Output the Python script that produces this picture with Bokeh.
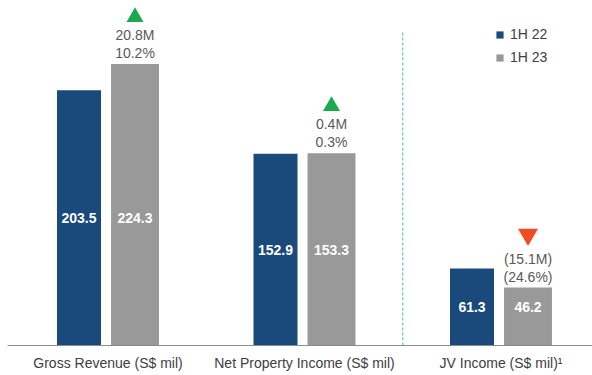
from bokeh.plotting import figure
from bokeh.models import ColumnDataSource, Range1d, FixedTicker, Legend, LegendItem
from bokeh.transform import dodge
from bokeh.core.properties import value
from bokeh.embed import file_html
from bokeh.resources import INLINE

# ---- data ----
categories = ["Gross Revenue (S$ mil)", "Net Property Income (S$ mil)", "JV Income (S$ mil)\u00b9"]
h1_22 = [203.5, 152.9, 61.3]
h1_23 = [224.3, 153.3, 46.2]
change_abs = ["20.8M", "0.4M", "(15.1M)"]
change_pct = ["10.2%", "0.3%", "(24.6%)"]
direction = ["up", "up", "down"]
series_names = ["1H 22", "1H 23"]

BLUE = "#1a4a7b"
GREY = "#999999"
GREEN = "#1ba84f"
RED = "#f04b23"
FONT = "Liberation Sans"

x = list(range(len(categories)))
Y_END = 275.0
FRAME_H = 345
def px(n):
    return n * Y_END / FRAME_H

src = ColumnDataSource(dict(
    x=x,
    a=h1_22,
    b=h1_23,
    a_lbl=[f"{v:.1f}" for v in h1_22],
    b_lbl=[f"{v:.1f}" for v in h1_23],
    mid=[v / 2 for v in h1_22],
    abs_=change_abs,
    pct=change_pct,
))

p = figure(width=592, height=375, output_backend="svg", toolbar_location=None,
           x_range=Range1d(-0.5115, 2.4656), y_range=Range1d(0, Y_END),
           min_border_left=7, min_border_right=0, min_border_top=0, min_border_bottom=30)
p.outline_line_color = None
p.grid.visible = False
p.yaxis.visible = False
p.background_fill_color = "white"

ax = p.xaxis[0]
ax.ticker = FixedTicker(ticks=x)
ax.major_label_overrides = {i: c for i, c in zip(x, categories)}
ax.major_tick_line_color = None
ax.minor_tick_line_color = None
ax.major_tick_out = 0
ax.major_label_standoff = 9
ax.axis_line_color = "#8c8c8c"
ax.major_label_text_font = FONT
ax.major_label_text_font_size = "14px"
ax.major_label_text_color = "#404040"

r1 = p.vbar(x=dodge("x", -0.1476, range=p.x_range), top="a", width=0.224, source=src,
            fill_color=BLUE, line_color=None)
r2 = p.vbar(x=dodge("x", 0.1374, range=p.x_range), top="b", width=0.244, source=src,
            fill_color=GREY, line_color=None)

# in-bar labels
for off, col in [(-0.1476, "a_lbl"), (0.1374, "b_lbl")]:
    p.text(x=dodge("x", off, range=p.x_range), y="mid", text=col, source=src,
           text_font=value(FONT), text_font_size="14px", text_font_style="bold",
           text_color="white", text_align="center", text_baseline="middle")

# change annotations
p.text(x=dodge("x", 0.1374, range=p.x_range), y="b", text="pct", source=src, y_offset=-11,
       text_font=value(FONT), text_font_size="14px", text_color="#595959",
       text_align="center", text_baseline="middle")
p.text(x=dodge("x", 0.1374, range=p.x_range), y="b", text="abs_", source=src, y_offset=-29,
       text_font=value(FONT), text_font_size="14px", text_color="#595959",
       text_align="center", text_baseline="middle")

up_x = [i + 0.1374 for i, d in zip(x, direction) if d == "up"]
up_y = [v + px(47) for v, d in zip(h1_23, direction) if d == "up"]
dn_x = [i + 0.1374 for i, d in zip(x, direction) if d == "down"]
dn_y = [v + px(53) for v, d in zip(h1_23, direction) if d == "down"]
p.scatter(up_x, up_y, marker="triangle", size=17, fill_color=GREEN, line_color=None)
p.scatter(dn_x, dn_y, marker="inverted_triangle", size=20, fill_color=RED, line_color=None)

# divider
p.segment(x0=[1.5], y0=[0], x1=[1.5], y1=[px(345 - 32)], line_color="#5bbfd0",
          line_width=1.2, line_dash="3 2")

legend = Legend(items=[LegendItem(label=series_names[0], renderers=[r1]),
                       LegendItem(label=series_names[1], renderers=[r2])],
                location=(488, 280), orientation="vertical",
                padding=0, margin=0, spacing=7,
                glyph_width=9, glyph_height=9, label_height=14, label_standoff=6,
                label_text_font=FONT, label_text_font_size="14px", label_text_color="#404040",
                border_line_color=None, background_fill_alpha=0)
p.add_layout(legend)

open("out.html", "w").write(file_html(p, INLINE))
